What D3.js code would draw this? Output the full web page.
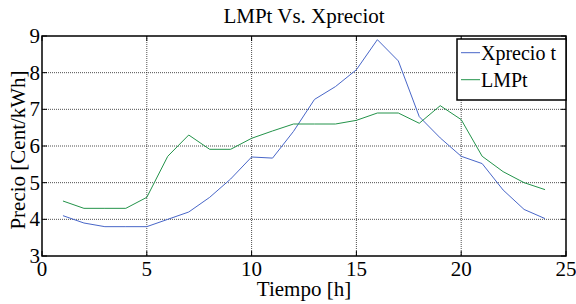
<!DOCTYPE html>
<html>
<head>
<meta charset="utf-8">
<script src="https://cdn.jsdelivr.net/npm/d3@7"></script>
<style>
  body { margin: 0; background: #fff; }
</style>
</head>
<body>
<script>
const horas = d3.range(1, 25);
const xprecio = [4.1, 3.9, 3.8, 3.8, 3.8, 4.0, 4.2, 4.6, 5.1, 5.7, 5.67, 6.4,
                 7.27, 7.62, 8.08, 8.9, 8.32, 6.8, 6.22, 5.72, 5.52, 4.8, 4.27, 4.02];
const lmpt = [4.5, 4.3, 4.3, 4.3, 4.6, 5.72, 6.3, 5.91, 5.91, 6.21, 6.41, 6.6,
              6.6, 6.6, 6.7, 6.9, 6.9, 6.62, 7.1, 6.72, 5.72, 5.3, 5.0, 4.81];
const xTicks = [0, 5, 10, 15, 20, 25];
const yTicks = [3, 4, 5, 6, 7, 8, 9];
const seriesNames = ["Xprecio t", "LMPt"];
const seriesColors = ["#4866c8", "#23934a"];

function init() {
    const w = 576, h = 304;
    const left = 42, right = 566, top = 36, bottom = 256;

    const svg = d3.select("body").append("svg")
        .attr("width", w).attr("height", h)
        .attr("font-family", "'Liberation Serif', 'Times New Roman', 'DejaVu Serif', serif");

    const x = d3.scaleLinear().domain([0, 25]).range([left, right]);
    const y = d3.scaleLinear().domain([3, 9]).range([bottom, top]);

    // grid (dotted)
    svg.append("g").selectAll("line").data(xTicks.slice(1, -1)).join("line")
        .attr("x1", d => x(d)).attr("x2", d => x(d))
        .attr("y1", top).attr("y2", bottom)
        .attr("stroke", "#222").attr("stroke-width", 0.8)
        .attr("stroke-dasharray", "1,1");
    svg.append("g").selectAll("line").data(yTicks.slice(1, -1)).join("line")
        .attr("x1", left).attr("x2", right)
        .attr("y1", d => y(d)).attr("y2", d => y(d))
        .attr("stroke", "#222").attr("stroke-width", 0.8)
        .attr("stroke-dasharray", "1,1");

    // inward ticks on all four sides
    const tl = 5;
    const ticks = svg.append("g").attr("stroke", "#000").attr("stroke-width", 1);
    xTicks.forEach(t => {
        ticks.append("line").attr("x1", x(t)).attr("x2", x(t)).attr("y1", bottom).attr("y2", bottom - tl);
        ticks.append("line").attr("x1", x(t)).attr("x2", x(t)).attr("y1", top).attr("y2", top + tl);
    });
    yTicks.forEach(t => {
        ticks.append("line").attr("x1", left).attr("x2", left + tl).attr("y1", y(t)).attr("y2", y(t));
        ticks.append("line").attr("x1", right).attr("x2", right - tl).attr("y1", y(t)).attr("y2", y(t));
    });

    // lines
    const line = d3.line().x((d, i) => x(horas[i])).y(d => y(d));
    [xprecio, lmpt].forEach((s, k) => {
        svg.append("path").datum(s)
            .attr("fill", "none")
            .attr("stroke", seriesColors[k])
            .attr("stroke-width", 1)
            .attr("d", line);
    });

    // frame
    svg.append("rect")
        .attr("x", left).attr("y", top)
        .attr("width", right - left).attr("height", bottom - top)
        .attr("fill", "none").attr("stroke", "#000").attr("stroke-width", 1.5);

    // tick labels
    svg.append("g").selectAll("text").data(xTicks).join("text")
        .attr("x", d => x(d)).attr("y", bottom + 20)
        .attr("text-anchor", "middle")
        .attr("font-size", 21)
        .text(d => d);
    svg.append("g").selectAll("text").data(yTicks).join("text")
        .attr("x", left - 2).attr("y", d => y(d) + 7)
        .attr("text-anchor", "end")
        .attr("font-size", 21)
        .text(d => d);

    // titles
    svg.append("text")
        .attr("x", 304).attr("y", 23)
        .attr("text-anchor", "middle")
        .attr("font-size", 21)
        .text("LMPt Vs. Xpreciot");
    svg.append("text")
        .attr("x", 304).attr("y", 296)
        .attr("text-anchor", "middle")
        .attr("font-size", 21)
        .text("Tiempo [h]");
    svg.append("text")
        .attr("transform", "translate(25,150) rotate(-90)")
        .attr("text-anchor", "middle")
        .attr("font-size", 21)
        .text("Precio [Cent/kWh]");

    // legend
    const lg = svg.append("g");
    lg.append("rect")
        .attr("x", 457).attr("y", 39).attr("width", 109).attr("height", 61)
        .attr("fill", "#fff").attr("stroke", "#000").attr("stroke-width", 1.5);
    seriesNames.forEach((n, i) => {
        const yy = 52.7 + i * 27;
        lg.append("line")
            .attr("x1", 461).attr("x2", 480).attr("y1", yy).attr("y2", yy)
            .attr("stroke", seriesColors[i]).attr("stroke-width", 1);
        lg.append("text")
            .attr("x", 481).attr("y", yy + 7)
            .attr("font-size", 20)
            .text(n);
    });
}

window.onload = init;
</script>
</body>
</html>
